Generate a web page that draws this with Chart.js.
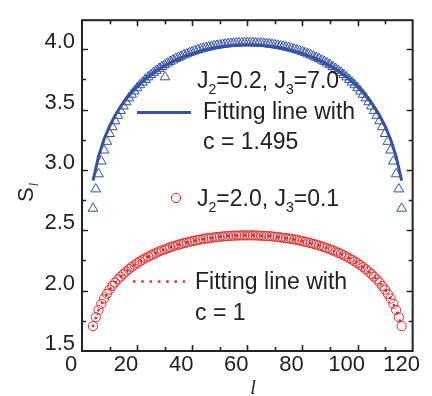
<!DOCTYPE html>
<html>
<head>
<meta charset="utf-8">
<script src="https://cdn.jsdelivr.net/npm/chart.js@4/dist/chart.umd.min.js"></script>
<style>
  html, body { margin: 0; padding: 0; background: #fff; }
  #wrap { width: 432px; height: 396px; position: relative; }
</style>
</head>
<body>
<div id="wrap"><canvas id="chart"></canvas></div>
<script>
// subsystem size l
const lValues = [4,5,6,7,8,9,10,11,12,13,14,15,16,17,18,19,20,21,22,23,24,25,26,27,28,29,30,31,32,33,34,35,36,37,38,39,40,41,42,43,44,45,46,47,48,49,50,51,52,53,54,55,56,57,58,59,60,61,62,63,64,65,66,67,68,69,70,71,72,73,74,75,76,77,78,79,80,81,82,83,84,85,86,87,88,89,90,91,92,93,94,95,96,97,98,99,100,101,102,103,104,105,106,107,108,109,110,111,112,113,114,115,116];

// J2=0.2, J3=7.0 (triangles)
const entropyA = [2.681,2.841,2.966,3.072,3.163,3.235,3.300,3.356,3.405,3.451,3.491,3.528,3.563,3.595,3.625,3.652,3.679,3.704,3.726,3.748,3.769,3.788,3.806,3.823,3.840,3.855,3.870,3.884,3.897,3.909,3.921,3.931,3.941,3.952,3.960,3.970,3.978,3.986,3.993,4.000,4.006,4.012,4.017,4.023,4.027,4.031,4.035,4.038,4.042,4.045,4.047,4.049,4.050,4.051,4.052,4.053,4.053,
  4.053,4.052,4.051,4.050,4.049,4.047,4.045,4.042,4.038,4.035,4.031,4.027,4.023,4.017,4.012,4.006,4.000,3.993,3.986,3.978,3.970,3.960,3.952,3.941,3.931,3.921,3.909,3.897,3.884,3.870,3.855,3.840,3.823,3.806,3.788,3.769,3.748,3.726,3.704,3.679,3.652,3.625,3.595,3.563,3.528,3.491,3.451,3.405,3.356,3.300,3.235,3.163,3.072,2.966,2.841,2.681];

// J2=2.0, J3=0.1 (circles)
const entropyB = [1.706,1.780,1.840,1.891,1.935,1.973,2.008,2.039,2.067,2.093,2.116,2.138,2.158,2.177,2.195,2.212,2.227,2.242,2.256,2.269,2.281,2.293,2.304,2.314,2.324,2.334,2.342,2.351,2.359,2.367,2.374,2.381,2.387,2.394,2.399,2.405,2.410,2.415,2.420,2.424,2.428,2.432,2.435,2.438,2.441,2.444,2.446,2.449,2.451,2.452,2.454,2.455,2.456,2.457,2.458,2.458,2.458,
  2.458,2.458,2.457,2.456,2.455,2.454,2.452,2.451,2.449,2.446,2.444,2.441,2.438,2.435,2.432,2.428,2.424,2.420,2.415,2.410,2.405,2.399,2.394,2.387,2.381,2.374,2.367,2.359,2.351,2.342,2.334,2.324,2.314,2.304,2.293,2.281,2.269,2.256,2.242,2.227,2.212,2.195,2.177,2.158,2.138,2.116,2.093,2.067,2.039,2.008,1.973,1.935,1.891,1.840,1.780,1.706];

// fitting lines
const fitL = [4,6,8,10,12,14,16,18,20,22,24,26,28,30,32,34,36,38,40,42,44,46,48,50,52,54,56,58,60,62,64,66,68,70,72,74,76,78,80,82,84,86,88,90,92,94,96,98,100,102,104,106,108,110,112,114,116];
const fitA = [2.911,3.111,3.253,3.362,3.450,3.524,3.587,3.642,3.690,3.732,3.771,3.804,3.835,3.862,3.887,3.910,3.929,3.947,3.963,3.978,3.990,4.001,4.010,4.018,4.024,4.029,4.032,4.034,4.035,4.034,4.032,4.029,4.024,4.018,4.010,4.001,3.990,3.978,3.963,3.947,3.929,3.910,3.887,3.862,3.835,3.804,3.771,3.732,3.690,3.642,3.587,3.524,3.450,3.362,3.253,3.111,2.911];
const fitB = [1.706,1.840,1.935,2.008,2.067,2.116,2.158,2.195,2.227,2.256,2.281,2.304,2.324,2.342,2.359,2.374,2.387,2.399,2.410,2.420,2.428,2.435,2.441,2.446,2.451,2.454,2.456,2.458,2.458,2.458,2.456,2.454,2.451,2.446,2.441,2.435,2.428,2.420,2.410,2.399,2.387,2.374,2.359,2.342,2.324,2.304,2.281,2.256,2.227,2.195,2.158,2.116,2.067,2.008,1.935,1.840,1.706];

// axes
const xRange = [0, 120];
const yRange = [1.5, 4.24];
const xMinorTicks = [10, 20, 30, 40, 50, 60, 70, 80, 90, 100, 110];
const yMinorTicks = [1.75, 2.0, 2.25, 2.5, 2.75, 3.0, 3.25, 3.5, 3.75, 4.0];

const BLUE = '#3452a6';
const RED = '#ee2626';
const INK = '#222';
const FONT = '"Liberation Sans", Arial, sans-serif';

const toPoints = (xs, ys) => xs.map((x, i) => ({ x: x, y: ys[i] }));

// frame with inward ticks, axis titles and the in-plot legend
const framePlugin = {
  id: 'frame',
  afterDraw(chart) {
    const ctx = chart.ctx;
    const a = chart.chartArea;
    const xs = chart.scales.x;
    const ys = chart.scales.y;
    ctx.save();
    ctx.strokeStyle = INK;
    ctx.lineWidth = 2;
    ctx.strokeRect(a.left, a.top, a.right - a.left, a.bottom - a.top);

    ctx.lineWidth = 1.6;
    ctx.beginPath();
    xMinorTicks.forEach(v => {
      const px = Math.round(xs.getPixelForValue(v)) + 0.5;
      const len = v % 20 === 0 ? 6 : 4;
      ctx.moveTo(px, a.bottom); ctx.lineTo(px, a.bottom - len);
      ctx.moveTo(px, a.top); ctx.lineTo(px, a.top + len);
    });
    yMinorTicks.forEach(v => {
      const py = Math.round(ys.getPixelForValue(v)) + 0.5;
      const len = Math.abs(v * 2 - Math.round(v * 2)) < 1e-6 ? 6 : 4;
      ctx.moveTo(a.left, py); ctx.lineTo(a.left + len, py);
      ctx.moveTo(a.right, py); ctx.lineTo(a.right - len, py);
    });
    ctx.stroke();

    // axis titles
    ctx.fillStyle = INK;
    ctx.textBaseline = 'alphabetic';
    ctx.font = 'italic 20px "Liberation Serif", serif';
    ctx.textAlign = 'center';
    ctx.fillText('l', 253, 394);

    ctx.save();
    ctx.translate(33, 202);
    ctx.rotate(-Math.PI / 2);
    ctx.textAlign = 'left';
    ctx.font = '22px ' + FONT;
    ctx.fillText('S', 0, 0);
    const sw = ctx.measureText('S').width;
    ctx.font = 'italic 12px "Liberation Serif", serif';
    ctx.fillText('l', sw + 1, 5);
    ctx.restore();

    // legend
    const rich = (parts, x, y) => {
      ctx.textAlign = 'left';
      parts.forEach(p => {
        ctx.font = p[1] ? '14px ' + FONT : '23px ' + FONT;
        ctx.fillText(p[0], x, p[1] ? y + 6 : y);
        x += ctx.measureText(p[0]).width;
      });
    };

    // triangle entry
    ctx.strokeStyle = BLUE;
    ctx.lineWidth = 1;
    const r = 5.6;
    ctx.beginPath();
    for (let k = 0; k < 3; k++) {
      const ang = k * 2 * Math.PI / 3;
      const px = 165 + Math.sin(ang) * r, py = 77 - Math.cos(ang) * r;
      if (k === 0) ctx.moveTo(px, py); else ctx.lineTo(px, py);
    }
    ctx.closePath();
    ctx.stroke();
    ctx.fillStyle = INK;
    rich([['J'], ['2', true], ['=0.2, J'], ['3', true], ['=7.0']], 197, 87.5);

    ctx.strokeStyle = BLUE;
    ctx.lineWidth = 3;
    ctx.beginPath();
    ctx.moveTo(137, 112.5); ctx.lineTo(191, 112.5);
    ctx.stroke();
    rich([['Fitting line with']], 203, 119);
    rich([['c = 1.495']], 203, 149);

    // circle entry
    ctx.strokeStyle = RED;
    ctx.lineWidth = 1;
    ctx.beginPath();
    ctx.arc(176, 198, 4.6, 0, Math.PI * 2);
    ctx.stroke();
    rich([['J'], ['2', true], ['=2.0, J'], ['3', true], ['=0.1']], 197, 206);

    ctx.strokeStyle = RED;
    ctx.lineWidth = 2.6;
    ctx.lineCap = 'round';
    ctx.setLineDash([0.4, 7.9]);
    ctx.beginPath();
    ctx.moveTo(134, 281.5); ctx.lineTo(184, 281.5);
    ctx.stroke();
    ctx.setLineDash([]);
    rich([['Fitting line with']], 195, 289);
    rich([['c = 1']], 195, 320);

    ctx.restore();
  }
};

new Chart(document.getElementById('chart'), {
  type: 'scatter',
  data: {
    datasets: [
      {
        label: 'Fitting line with c = 1',
        data: toPoints(fitL, fitB),
        showLine: true,
        borderColor: RED,
        borderWidth: 2.6,
        borderDash: [0.4, 7.9],
        borderCapStyle: 'round',
        pointRadius: 0,
        fill: false,
      },
      {
        label: 'Fitting line with c = 1.495',
        data: toPoints(fitL, fitA),
        showLine: true,
        borderColor: BLUE,
        borderWidth: 3,
        pointRadius: 0,
        fill: false,
      },
      {
        label: 'J2=2.0, J3=0.1',
        data: toPoints(lValues, entropyB),
        pointStyle: 'circle',
        pointRadius: 4.6,
        borderWidth: 1,
        borderColor: RED,
        backgroundColor: 'rgba(0,0,0,0)',
      },
      {
        label: 'J2=0.2, J3=7.0',
        data: toPoints(lValues, entropyA),
        pointStyle: 'triangle',
        pointRadius: 5.6,
        borderWidth: 1,
        borderColor: BLUE,
        backgroundColor: 'rgba(0,0,0,0)',
      },
    ],
  },
  options: {
    responsive: true,
    maintainAspectRatio: false,
    animation: false,
    layout: { padding: { top: 9, right: 8, left: 0, bottom: 0 } },
    plugins: {
      legend: { display: false },
      tooltip: { enabled: false },
    },
    scales: {
      x: {
        type: 'linear',
        min: xRange[0],
        max: xRange[1],
        grid: { display: false, drawTicks: false },
        border: { display: false },
        ticks: {
          stepSize: 20,
          includeBounds: false,
          padding: 1,
          labelOffset: -11,
          color: INK,
          font: { family: FONT, size: 22 },
        },
        afterFit: (scale) => { scale.height = 45; },
      },
      y: {
        type: 'linear',
        min: yRange[0],
        max: yRange[1],
        grid: { display: false, drawTicks: false },
        border: { display: false },
        ticks: {
          stepSize: 0.5,
          includeBounds: false,
          padding: 7,
          labelOffset: -7,
          color: INK,
          font: { family: FONT, size: 22 },
          callback: (value) => value.toFixed(1),
        },
        afterFit: (scale) => { scale.width = 82; },
      },
    },
  },
  plugins: [framePlugin],
});
</script>
</body>
</html>
